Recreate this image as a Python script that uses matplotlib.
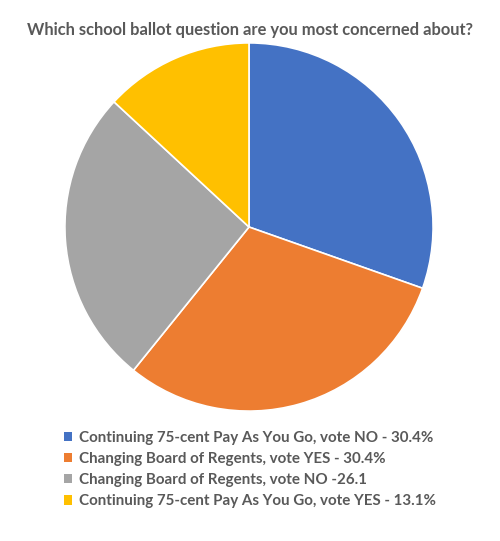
import matplotlib
matplotlib.use("Agg")
import matplotlib.pyplot as plt

labels = ["Continuing 75-cent Pay As You Go, vote NO - 30.4%",
          "Changing Board of Regents, vote YES - 30.4%",
          "Changing Board of Regents, vote NO -26.1",
          "Continuing 75-cent Pay As You Go, vote YES - 13.1%"]
values = [30.4, 30.4, 26.1, 13.1]
colors = ["#4472C4", "#ED7D31", "#A5A5A5", "#FFC000"]

plt.rcParams['font.family'] = ['Lato', 'DejaVu Sans']

fig = plt.figure(figsize=(5, 5.41), dpi=100)
fig.patch.set_facecolor("white")

ax = fig.add_axes([0.128, 0.2384, 0.74, 0.684])
wedges, _ = ax.pie(values, colors=colors, startangle=90, counterclock=False,
                   wedgeprops=dict(edgecolor="white", linewidth=1.2))
ax.set_xlim(-1.005, 1.005)
ax.set_ylim(-1.005, 1.005)
ax.set_aspect("equal")

fig.text(0.5, 1 - 30 / 541, "Which school ballot question are you most concerned about?",
         ha="center", va="center", fontsize=11.9, fontweight="bold", color="#595959")

leg = fig.legend(wedges, labels, loc="upper left", bbox_to_anchor=(0.127, 1 - 431 / 541),
                 frameon=False, handlelength=0.55, handleheight=0.55, handletextpad=0.45,
                 labelspacing=0.47, borderaxespad=0, borderpad=0,
                 prop=dict(size=10.9, weight="bold"))
for t in leg.get_texts():
    t.set_color("#595959")
for h in leg.legend_handles:
    h.set_edgecolor("none")

fig.savefig("out.png", dpi=100)
